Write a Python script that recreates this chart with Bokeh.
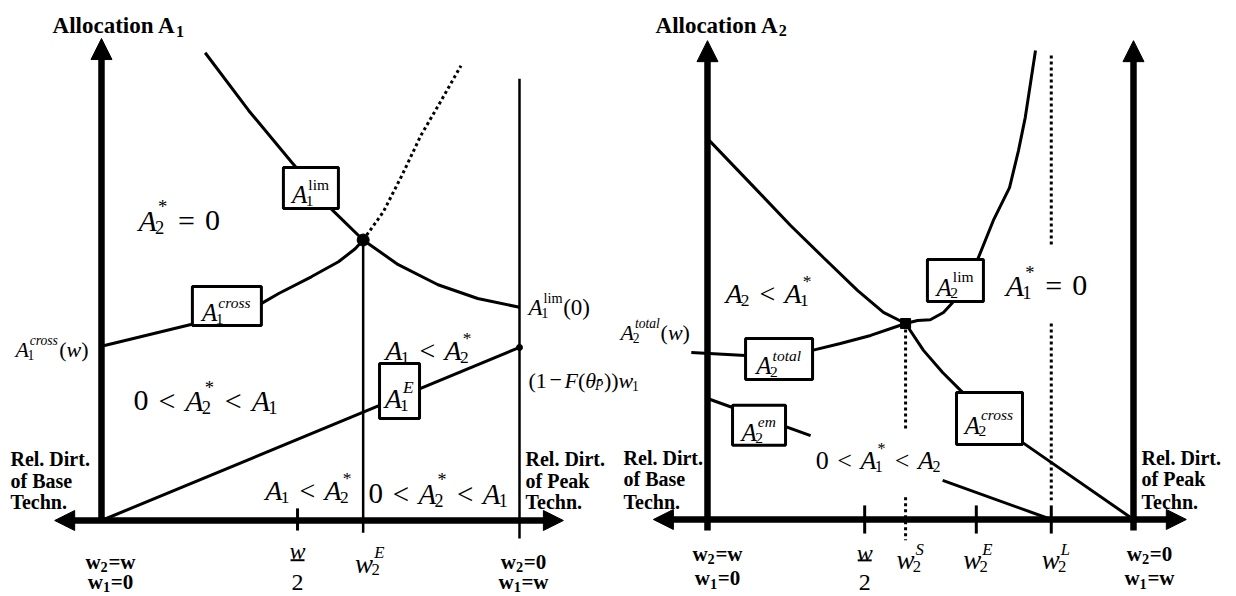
from bokeh.plotting import figure
from bokeh.models import Range1d, Label, Arrow, NormalHead
from bokeh.embed import file_html
from bokeh.resources import INLINE

NaN = float("nan")

# ---------------- data (x: 0 = "w2=w / w1=0", 1 = "w2=0 / w1=w"; y: allocation) ----------------
# Left panel: Allocation A1
L_w_half = 0.469
L_w2E = 0.626
L_top = 1.153
L_xaxis = [-0.112, 1.105]
A1_lim_x = [0.248, 0.352, 0.455, 0.550, 0.626, 0.710, 0.805, 0.900, 1.000]
A1_lim_y = [1.119, 0.981, 0.857, 0.745, 0.671, 0.612, 0.564, 0.531, 0.510]
A1_lim_dot_x = [0.626, 0.674, 0.719, 0.764, 0.810, 0.860]
A1_lim_dot_y = [0.671, 0.738, 0.826, 0.921, 1.000, 1.088]
A1_cross_x = [0.000, 0.214, 0.379, 0.424, 0.502, 0.567, 0.607, 0.626]
A1_cross_y = [0.417, 0.469, 0.517, 0.543, 0.583, 0.619, 0.650, 0.671]
A1_E_x = [0.000, 1.000]
A1_E_y = [0.000, 0.414]
L_right_line_top = 1.057

# Right panel: Allocation A2
R_w_half = 0.369
R_w2S = 0.465
R_w2E = 0.631
R_w2L = 0.807
R_top = 1.124
R_xaxis = [-0.127, 1.124]
A2_upper_x = [0.000, 0.117, 0.195, 0.272, 0.352, 0.413, 0.465]
A2_upper_y = [0.894, 0.772, 0.690, 0.615, 0.538, 0.486, 0.460]
A2_lim_x = [0.465, 0.493, 0.523, 0.554, 0.575, 0.606, 0.634, 0.671, 0.709, 0.730, 0.746, 0.770]
A2_lim_y = [0.460, 0.467, 0.469, 0.486, 0.509, 0.561, 0.610, 0.702, 0.779, 0.866, 0.944, 1.101]
A2_total_x = [-0.038, 0.089, 0.246, 0.312, 0.383, 0.465]
A2_total_y = [0.392, 0.385, 0.397, 0.413, 0.432, 0.460]
A2_cross_x = [0.465, 0.507, 0.552, 0.594, 0.739, 1.000]
A2_cross_y = [0.460, 0.397, 0.345, 0.303, 0.181, 0.000]
A2_em_x = [0.000, 0.242, NaN, 0.552, 0.807]
A2_em_y = [0.284, 0.197, NaN, 0.092, 0.000]
R_w2S_dot = [(0.460, 0.209), (0.052, -0.049)]
R_w2L_dot = [(1.089, 0.643), (0.460, 0.045)]

# label boxes: (panel, x, y, label-key)
boxes = [("L", 0.501, 0.7955, "A1lim"), ("L", 0.300, 0.513, "A1cross"), ("L", 0.713, 0.310, "A1E"),
         ("R", 0.582, 0.561, "A2lim"), ("R", 0.168, 0.377, "A2total"), ("R", 0.121, 0.221, "A2em"),
         ("R", 0.662, 0.237, "A2cross")]

# ---------------- figure ----------------
p = figure(width=1236, height=596, output_backend="svg", toolbar_location=None,
           x_axis_type=None, y_axis_type=None, min_border=0,
           x_range=Range1d(-0.2416, 2.7153), y_range=Range1d(-0.1818, 1.2440))
p.extra_x_ranges = {"R": Range1d(-1.6596, 1.2418)}
p.extra_y_ranges = {"R": Range1d(-0.1808, 1.2183)}
p.outline_line_color = None
p.background_fill_color = "white"
p.border_fill_color = "white"


def rk(r):
    return {} if r == "L" else {"x_range_name": "R", "y_range_name": "R"}


SERIF = "'Liberation Serif', 'Times New Roman', Tinos, 'DejaVu Serif', serif"
ROMAN = {' ': 250, '.': 250, '=': 564, '<': 564, '−': 564, '(': 333, ')': 333, '*': 500,
         'a': 444, 'b': 500, 'c': 444, 'e': 444, 'f': 333, 'h': 500, 'i': 278, 'k': 500, 'l': 278,
         'm': 778, 'n': 500, 'o': 500, 'r': 333, 's': 389, 't': 278, 'w': 722,
         'A': 722, 'B': 667, 'D': 722, 'E': 611, 'P': 556, 'R': 667, 'T': 611, '\u0304': 0}
ITAL = {' ': 250, 'A': 611, 'E': 611, 'F': 611, 'L': 556, 'P': 611, 'S': 500, 'w': 667, 'a': 500,
        'c': 444, 'e': 444, 'l': 278, 'm': 722, 'o': 500, 'r': 389, 's': 389, 't': 278, 'θ': 500,
        '\u0304': 0}
BOLD = {' ': 250, '.': 250, '=': 570, 'a': 500, 'b': 556, 'c': 444, 'e': 444, 'f': 333, 'h': 556,
        'i': 278, 'k': 556, 'l': 278, 'n': 556, 'o': 500, 'r': 444, 's': 389, 't': 333, 'w': 722,
        'A': 722, 'B': 667, 'D': 722, 'P': 611, 'R': 722, 'T': 667}
TABS = {"n": ROMAN, "i": ITAL, "b": BOLD}


def tw(s, size, st):
    t = TABS[st]
    return sum(t.get(c, 500) for c in s) * size / 1000.0


def put(tokens, x, y, size, r="L", align="left", dx=0.0, dy=0.0, ssf=0.62):
    pieces = []
    cx = 0.0
    prev = "n"
    for t in tokens:
        k = t[0]
        if k in ("n", "i", "b"):
            pieces.append((t[1], cx, 0.0, size, k))
            cx += tw(t[1], size, k)
            prev = k
        elif k == "gap":
            cx += t[1] * size
        elif k == "ss":
            sub, sup, sst, pst = t[1], t[2], t[3], t[4]
            ss = size * ssf
            w1 = w2 = 0.0
            if sub:
                sx = cx - (0.06 * size if prev == "i" else 0.0)
                pieces.append((sub, sx, -0.24 * size, ss, sst))
                w1 = tw(sub, ss, sst) - (0.06 * size if prev == "i" else 0.0)
            if sup:
                raise_ = 0.45 if sup == "*" else 0.42
                sx = cx + (0.04 * size if prev == "i" else 0.0)
                pieces.append((sup, sx, raise_ * size, ss, pst))
                w2 = tw(sup, ss, pst) + (0.04 * size if prev == "i" else 0.0)
            cx += max(w1, w2) + 0.03 * size
    off = {"left": 0.0, "center": -cx / 2.0, "right": -cx}[align]
    for text, px, py, sz, st in pieces:
        p.add_layout(Label(x=x, y=y, x_offset=dx + off + px, y_offset=dy + py, text=text,
                           text_font=SERIF, text_font_size="%.1fpx" % sz,
                           text_font_style={"n": "normal", "i": "italic", "b": "bold"}[st],
                           text_color="black", text_baseline="alphabetic", text_align="left",
                           **rk(r)))


def A(sub, sup=None, pst="i"):
    return [("i", "A"), ("ss", sub, sup, "n", pst)]


G = ("gap", 0.33)
LT = [G, ("n", "<"), G]
EQ = [G, ("n", "="), G]

LABELS = {
    "A1lim": A("1", "lim", "n"), "A1cross": A("1", "cross"), "A1E": A("1", "E"),
    "A2lim": A("2", "lim", "n"), "A2total": A("2", "total"), "A2em": A("2", "em"),
    "A2cross": A("2", "cross"),
}
BOXSIZE = {"A1lim": (55, 41), "A1cross": (69, 39), "A1E": (40, 55), "A2lim": (56, 42),
           "A2total": (67, 41), "A2em": (53, 40), "A2cross": (66, 52)}

BLK = "black"

# ---------------- left panel ----------------
p.line(A1_lim_x, A1_lim_y, line_width=3, color=BLK)
p.line(A1_lim_dot_x, A1_lim_dot_y, line_width=3, color=BLK, line_dash="3 3")
p.line(A1_cross_x, A1_cross_y, line_width=3, color=BLK)
p.line(A1_E_x, A1_E_y, line_width=3, color=BLK)
p.segment(x0=[1.0, L_w2E], y0=[L_right_line_top, A1_lim_y[4]], x1=[1.0, L_w2E], y1=[-0.043, -0.029],
          line_width=2.5, color=BLK)
p.segment(x0=[L_w_half], y0=[0.029], x1=[L_w_half], y1=[-0.024], line_width=3, color=BLK)
p.segment(x0=[0.0], y0=[0.0], x1=[0.0], y1=[L_top - 0.045], line_width=6.5, color=BLK)
p.segment(x0=[L_xaxis[0] + 0.04], y0=[0.0], x1=[L_xaxis[1] - 0.04], y1=[0.0], line_width=6.5, color=BLK)

# ---------------- right panel ----------------
R = rk("R")
p.line(A2_upper_x, A2_upper_y, line_width=3, color=BLK, **R)
p.line(A2_lim_x, A2_lim_y, line_width=3, color=BLK, **R)
p.line(A2_total_x, A2_total_y, line_width=3, color=BLK, **R)
p.line(A2_cross_x, A2_cross_y, line_width=3, color=BLK, **R)
p.line(A2_em_x, A2_em_y, line_width=3, color=BLK, **R)
for (a, b) in R_w2S_dot:
    p.line([R_w2S, R_w2S], [a, b], line_width=3, color=BLK, line_dash="3 3", **R)
for (a, b) in R_w2L_dot:
    p.line([R_w2L, R_w2L], [a, b], line_width=3, color=BLK, line_dash="3 3", **R)
p.segment(x0=[R_w_half, R_w2E, R_w2L], y0=[0.033] * 3, x1=[R_w_half, R_w2E, R_w2L], y1=[-0.033] * 3,
          line_width=3, color=BLK, **R)
p.segment(x0=[0.0, 1.0], y0=[-0.026, -0.026], x1=[0.0, 1.0], y1=[R_top - 0.045] * 2,
          line_width=6.5, color=BLK, **R)
p.segment(x0=[R_xaxis[0] + 0.04], y0=[0.0], x1=[R_xaxis[1] - 0.04], y1=[0.0], line_width=6.5,
          color=BLK, **R)


def head(x0, y0, x1, y1, r, size=21):
    p.add_layout(Arrow(end=NormalHead(size=size, fill_color=BLK, line_color=BLK, line_width=1),
                       x_start=x0, y_start=y0, x_end=x1, y_end=y1, line_alpha=0, **rk(r)))


head(0.0, L_top - 0.06, 0.0, L_top, "L")
head(L_xaxis[0] + 0.06, 0.0, L_xaxis[0], 0.0, "L", 20)
head(L_xaxis[1] - 0.06, 0.0, L_xaxis[1], 0.0, "L", 20)
head(0.0, R_top - 0.06, 0.0, R_top, "R")
head(1.0, R_top - 0.06, 1.0, R_top, "R")
head(R_xaxis[0] + 0.06, 0.0, R_xaxis[0], 0.0, "R", 20)
head(R_xaxis[1] - 0.06, 0.0, R_xaxis[1], 0.0, "R", 20)

for (r, bx, by, key) in boxes:
    w, h = BOXSIZE[key]
    p.rect(x=[bx], y=[by], width=w, height=h, width_units="screen", height_units="screen",
           fill_color="white", line_color=BLK, line_width=3, **rk(r))
    size = 28 if key == "A1E" else 25
    put(LABELS[key], bx, by, size, r, align="center", dy=-0.27 * size)

p.scatter([A1_lim_x[4]], [A1_lim_y[4]], size=12, color=BLK)
p.scatter([A1_E_x[1]], [A1_E_y[1]], size=6, color=BLK)
p.scatter([A2_upper_x[-1]], [A2_upper_y[-1]], size=10, marker="square", color=BLK, **R)

# ---------------- texts ----------------
put([("b", "Allocation A"), ("ss", "1", None, "b", None)], -0.117, 1.184, 23, "L", ssf=0.7)
put([("b", "Allocation A"), ("ss", "2", None, "b", None)], -0.122, 1.160, 23, "R", ssf=0.7)

put(A("2", "*", "n") + EQ + [("n", "0")], 0.0885, 0.718, 30, "L")
put([("n", "0")] + LT + A("2", "*", "n") + LT + A("1"), 0.0766, 0.287, 30, "L")
put(A("1") + LT + A("2", "*", "n"), 0.679, 0.407, 28, "L")
put(A("1") + LT + A("2", "*", "n"), 0.392, 0.0718, 28, "L")
put([("n", "0")] + LT + A("2", "*", "n") + LT + A("1"), 0.639, 0.0646, 29, "L")
put(A("1", "cross") + [("n", "("), ("i", "w"), ("n", ")")], -0.206, 0.409, 22, "L")
put(A("1", "lim", "n") + [("n", "(0)")], 1.0215, 0.5096, 23, "L")
put([("n", "(1"), ("gap", 0.12), ("n", "−"), ("gap", 0.12), ("i", "F"), ("n", "("), ("i", "θ"),
     ("ss", "P\u0304", None, "i", None), ("n", "))"), ("i", "w"), ("ss", "1", None, "n", None)],
    1.0215, 0.335, 22, "L")

put(A("2") + LT + A("1", "*", "n"), 0.042, 0.531, 28, "R")
put(A("1", "*", "n") + EQ + [("n", "0")], 0.700, 0.549, 30, "R")
put([("n", "0")] + LT + A("1", "*", "n") + LT + A("2"), 0.254, 0.1385, 26, "R")
put(A("2", "total") + [("n", "("), ("i", "w"), ("n", ")")], -0.204, 0.439, 22, "R")

for (r, x0, ys, words) in [("L", -0.2177, [0.146, 0.0957, 0.0431], ["Rel. Dirt.", "of Base", "Techn."]),
                           ("L", 1.0144, [0.146, 0.0957, 0.0431], ["Rel. Dirt.", "of Peak", "Techn."]),
                           ("R", -0.197, [0.1455, 0.0962, 0.0399], ["Rel. Dirt.", "of Base", "Techn."]),
                           ("R", 1.0188, [0.1455, 0.0962, 0.0399], ["Rel. Dirt.", "of Peak", "Techn."])]:
    for yy, wd in zip(ys, words):
        put([("b", wd)], x0, yy, 20, r)


def ends(r, x, y1, y2, dx, top, bot):
    put([("b", "w"), ("ss", "2", None, "b", None), ("b", top)], x, y1, 21, r, align="center", dx=dx, ssf=0.68)
    put([("b", "w"), ("ss", "1", None, "b", None), ("b", bot)], x, y2, 21, r, align="center", dx=dx, ssf=0.68)


ends("L", 0.0, -0.100, -0.148, 9, "=w", "=0")
ends("L", 1.0, -0.100, -0.148, 4, "=0", "=w")
ends("R", 0.0, -0.080, -0.1385, 10, "=w", "=0")
ends("R", 1.0, -0.080, -0.1385, 16, "=0", "=w")

for (r, xt, yw, yb, y2, hw) in [("L", L_w_half, -0.0720, -0.0950, -0.148, 0.0167),
                                 ("R", R_w_half, -0.0785, -0.0960, -0.148, 0.0164)]:
    put([("i", "w")], xt, yw, 24, r, align="center")
    put([("n", "2")], xt, y2, 24, r, align="center")
    p.segment(x0=[xt - hw], y0=[yb], x1=[xt + hw], y1=[yb], line_width=2, color=BLK, **rk(r))

put([("i", "w"), ("ss", "2", "E", "n", "i")], L_w2E, -0.1029, 27, "L", align="center", dx=7)
put([("i", "w"), ("ss", "2", "S", "n", "i")], R_w2S, -0.096, 27, "R", align="center", dx=5)
put([("i", "w"), ("ss", "2", "E", "n", "i")], R_w2E, -0.096, 27, "R", align="center", dx=2)
put([("i", "w"), ("ss", "2", "L", "n", "i")], R_w2L, -0.096, 27, "R", align="center", dx=5)

open("out.html", "w").write(file_html(p, INLINE, title="Allocation A1 and A2"))
